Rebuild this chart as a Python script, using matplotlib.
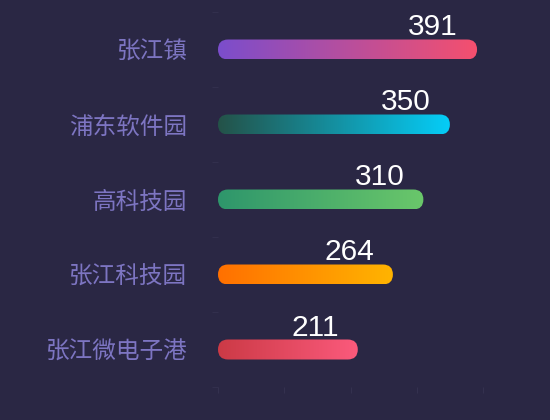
import numpy as np
import matplotlib
matplotlib.use("Agg")
import matplotlib.pyplot as plt
from matplotlib.patches import FancyBboxPatch
from matplotlib.colors import LinearSegmentedColormap

categories = ["张江镇", "浦东软件园", "高科技园", "张江科技园", "张江微电子港"]
values = [391, 350, 310, 264, 211]
grad_start = ["#7b4dcc", "#245248", "#2e966c", "#ff7000", "#cc3a46"]
grad_end = ["#f5506e", "#05cdf8", "#6ac76a", "#ffb400", "#fb5a7c"]
x_ticks = [0, 100, 200, 300, 400]

BG = "#2a2744"
W, H, DPI = 550, 420, 100
fig = plt.figure(figsize=(W / DPI, H / DPI), dpi=DPI, facecolor=BG)
ax_l, ax_r, ax_t, ax_b = 218, 483, 12, 387
ax = fig.add_axes([ax_l / W, (H - ax_b) / H, (ax_r - ax_l) / W, (ax_b - ax_t) / H])
ax.set_facecolor(BG)
ax.set_xlim(0, 400)
n = len(categories)
ax.set_ylim(n - 0.5, -0.5)

px_per_x = (ax_r - ax_l) / 400.0
px_per_y = (ax_b - ax_t) / n
bar_h_px = 20
half_h = bar_h_px / 2 / px_per_y
r_x = (bar_h_px / 2) / px_per_x
aspect = (bar_h_px / 2 / px_per_y) / r_x

for i, (v, c0, c1) in enumerate(zip(values, grad_start, grad_end)):
    cmap = LinearSegmentedColormap.from_list(f"g{i}", [c0, c1])
    grad = np.linspace(0, 1, 256).reshape(1, -1)
    im = ax.imshow(grad, cmap=cmap, aspect="auto",
                   extent=[0, v, i + half_h, i - half_h],
                   interpolation="bilinear", zorder=2)
    patch = FancyBboxPatch((0, i - half_h), v, 2 * half_h,
                           boxstyle=f"round,pad=0,rounding_size={r_x}",
                           mutation_aspect=aspect,
                           facecolor="none", edgecolor="none",
                           transform=ax.transData)
    ax.add_patch(patch)
    im.set_clip_path(patch)
    ax.annotate(str(v), xy=(v, i - half_h), xytext=(-19, 4),
                textcoords="offset pixels", ha="right", va="baseline",
                color="white", fontsize=21.5, family="Liberation Sans",
                zorder=3)

ax.set_yticks(range(n))
ax.set_yticklabels(categories, family=["Noto Sans CJK SC", "DejaVu Sans"],
                   fontsize=17, color="#7d75c2")
ax.set_yticks([k - 0.5 for k in range(n + 1)], minor=True)
ax.set_xticks(x_ticks)
ax.set_xticklabels([])
for s in ax.spines.values():
    s.set_visible(False)
ax.tick_params(axis="y", which="major", length=0, pad=22)
ax.tick_params(axis="y", which="minor", length=4, color="#34314f")
ax.tick_params(axis="x", length=4, color="#34314f")

fig.savefig("out.png", dpi=DPI, facecolor=BG)
